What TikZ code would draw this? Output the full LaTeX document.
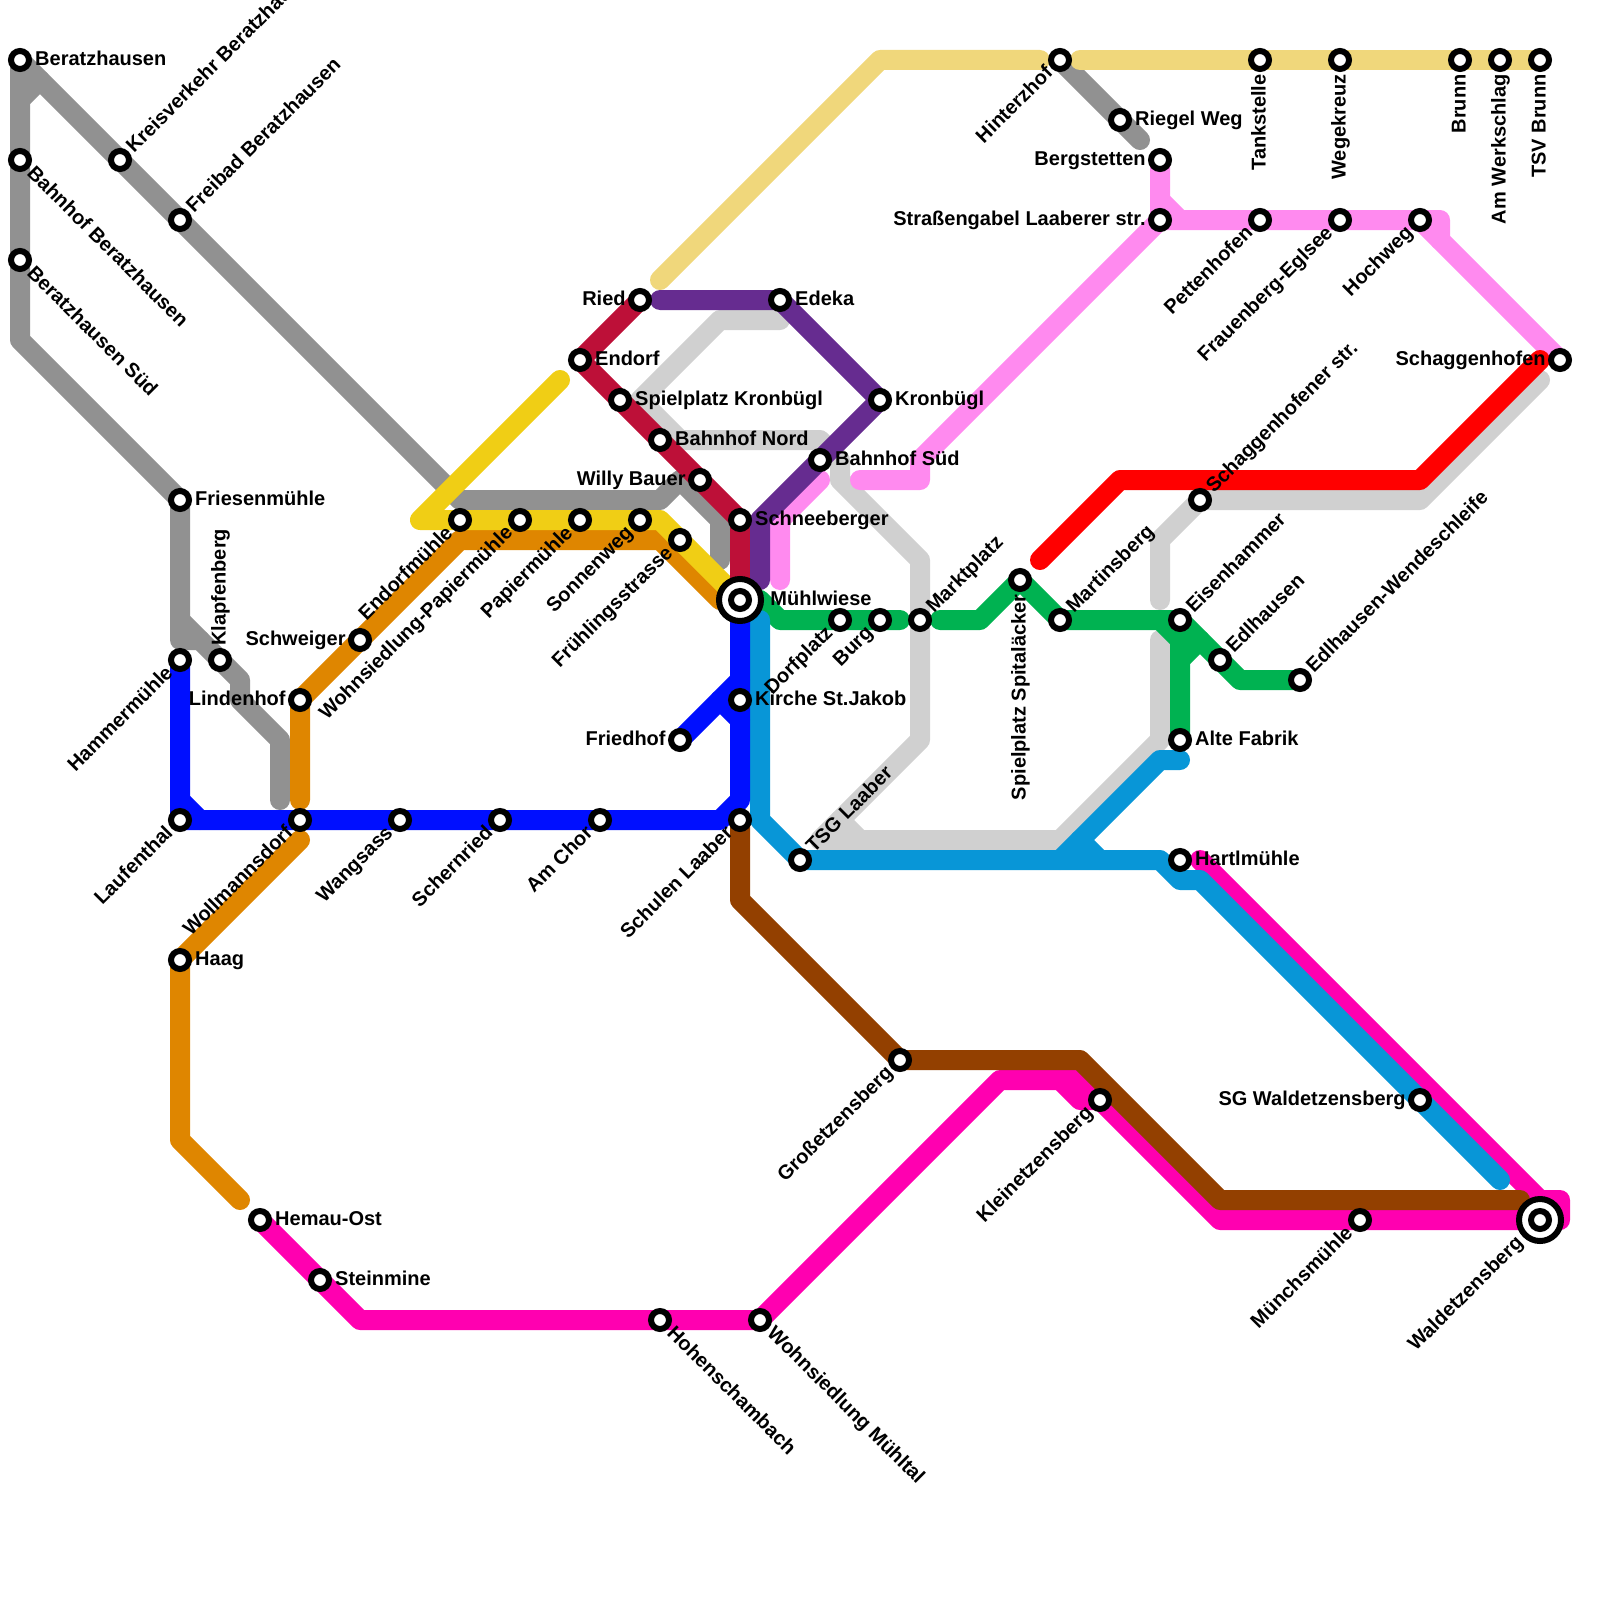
\documentclass[tikz,border=0pt]{standalone}
\usepackage{fontspec}
\setmainfont{Liberation Sans}
\pgfdeclarelayer{lines}
\pgfsetlayers{lines,main}
\definecolor{cgray}{HTML}{919191}
\definecolor{clight}{HTML}{D0D0D0}
\definecolor{cyellow}{HTML}{F0CE15}
\definecolor{csand}{HTML}{F0D77B}
\definecolor{corange}{HTML}{DF8600}
\definecolor{cblue}{HTML}{000FFF}
\definecolor{csky}{HTML}{0896D7}
\definecolor{ccrimson}{HTML}{BD1038}
\definecolor{cpurple}{HTML}{662C90}
\definecolor{cpink}{HTML}{FF8AEF}
\definecolor{cgreen}{HTML}{00B251}
\definecolor{cmagenta}{HTML}{FF00B0}
\definecolor{cbrown}{HTML}{934000}
\definecolor{cred}{HTML}{FF0000}
\tikzset{
  x=0.5pt,y=-0.5pt,
  rail/.style={line width=10pt,line cap=round,line join=round},
  stn/.style={circle,draw=black,fill=white,line width=3pt,minimum size=9pt,inner sep=0pt,outer sep=0pt},
  hubring/.style={circle,draw=black,fill=white,line width=3pt,minimum size=21pt,inner sep=0pt,outer sep=0pt},
  lab/.style={inner sep=0pt,font=\bfseries\fontsize{10}{12}\selectfont,text=black},
  lE/.style={lab,anchor=base west,xshift=7.4pt,yshift=-2.8pt},
  lW/.style={lab,anchor=base east,xshift=-7pt,yshift=-2.8pt},
  lNE/.style={lab,rotate=45,anchor=base west,xshift=7pt,yshift=-2.8pt},
  lSE/.style={lab,rotate=-45,anchor=base west,xshift=7pt,yshift=-2.8pt},
  lSW/.style={lab,rotate=45,anchor=base east,xshift=-7pt,yshift=-2.8pt},
  lS/.style={lab,rotate=90,anchor=base east,xshift=-7pt,yshift=-2.8pt},
  lN/.style={lab,rotate=90,anchor=base west,xshift=7pt,yshift=-2.8pt},
}
\newcommand{\stat}[5]{\node[stn] (#1) at (#2,#3) {}; \node[#4] (#1L) at (#1.center) {#5};}
\begin{document}
\begin{tikzpicture}
\useasboundingbox (0,0) rectangle (1600,1600);
\clip (0,0) rectangle (1600,1600);
% stations
\stat{beratz}{20}{60}{lE}{Beratzhausen}
\stat{bfberatz}{20}{160}{lSE}{Bahnhof Beratzhausen}
\stat{bersued}{20}{260}{lSE}{Beratzhausen Süd}
\stat{kreis}{120}{160}{lNE}{Kreisverkehr Beratzhausen}
\stat{freibad}{180}{220}{lNE}{Freibad Beratzhausen}
\stat{fries}{180}{500}{lE}{Friesenmühle}
\stat{klapf}{220}{660}{lN}{Klapfenberg}
\stat{hammer}{180}{660}{lSW}{Hammermühle}
\stat{lauf}{180}{820}{lSW}{Laufenthal}
\stat{linden}{300}{700}{lW}{Lindenhof}
\stat{schw}{360}{640}{lW}{Schweiger}
\stat{endm}{460}{520}{lSW}{Endorfmühle}
\stat{wohnp}{520}{520}{lSW}{Wohnsiedlung-Papiermühle}
\stat{papier}{580}{520}{lSW}{Papiermühle}
\stat{sonnen}{640}{520}{lSW}{Sonnenweg}
\stat{fruehl}{680}{540}{lSW}{Frühlingsstrasse}
\stat{woll}{300}{820}{lSW}{Wollmannsdorf}
\stat{wang}{400}{820}{lSW}{Wangsass}
\stat{schern}{500}{820}{lSW}{Schernried}
\stat{chor}{600}{820}{lSW}{Am Chor}
\stat{schul}{740}{820}{lSW}{Schulen Laaber}
\stat{haag}{180}{960}{lE}{Haag}
\stat{hemau}{260}{1220}{lE}{Hemau-Ost}
\stat{stein}{320}{1280}{lE}{Steinmine}
\stat{hohen}{660}{1320}{lSE}{Hohenschambach}
\stat{muehlt}{760}{1320}{lSE}{Wohnsiedlung Mühltal}
\stat{friedh}{680}{740}{lW}{Friedhof}
\stat{kirche}{740}{700}{lE}{Kirche St.Jakob}
\stat{tsg}{800}{860}{lNE}{TSG Laaber}
\stat{dorf}{840}{620}{lSW}{Dorfplatz}
\stat{burg}{880}{620}{lSW}{Burg}
\stat{markt}{920}{620}{lNE}{Marktplatz}
\stat{spital}{1020}{580}{lS}{Spielplatz Spitaläcker}
\stat{martin}{1060}{620}{lNE}{Martinsberg}
\stat{eisen}{1180}{620}{lNE}{Eisenhammer}
\stat{edl}{1220}{660}{lNE}{Edlhausen}
\stat{edlw}{1300}{680}{lNE}{Edlhausen-Wendeschleife}
\stat{alte}{1180}{740}{lE}{Alte Fabrik}
\stat{hartl}{1180}{860}{lE}{Hartlmühle}
\stat{schagstr}{1200}{500}{lNE}{Schaggenhofener str.}
\stat{schag}{1560}{360}{lW}{Schaggenhofen}
\stat{hoch}{1420}{220}{lSW}{Hochweg}
\stat{frau}{1340}{220}{lSW}{Frauenberg-Eglsee}
\stat{petten}{1260}{220}{lSW}{Pettenhofen}
\stat{strass}{1160}{220}{lW}{Straßengabel Laaberer str.}
\stat{bergst}{1160}{160}{lW}{Bergstetten}
\stat{riegel}{1120}{120}{lE}{Riegel Weg}
\stat{hinter}{1060}{60}{lSW}{Hinterzhof}
\stat{tank}{1260}{60}{lS}{Tankstelle}
\stat{wege}{1340}{60}{lS}{Wegekreuz}
\stat{brunn}{1460}{60}{lS}{Brunn}
\stat{werk}{1500}{60}{lS}{Am Werkschlag}
\stat{tsv}{1540}{60}{lS}{TSV Brunn}
\stat{ried}{640}{300}{lW}{Ried}
\stat{endorf}{580}{360}{lE}{Endorf}
\stat{spielk}{620}{400}{lE}{Spielplatz Kronbügl}
\stat{bfnord}{660}{440}{lE}{Bahnhof Nord}
\stat{willy}{700}{480}{lW}{Willy Bauer}
\stat{schnee}{740}{520}{lE}{Schneeberger}
\stat{edeka}{780}{300}{lE}{Edeka}
\stat{kron}{880}{400}{lE}{Kronbügl}
\stat{bfsued}{820}{460}{lE}{Bahnhof Süd}
\stat{gross}{900}{1060}{lSW}{Großetzensberg}
\stat{klein}{1100}{1100}{lSW}{Kleinetzensberg}
\stat{sgw}{1420}{1100}{lW}{SG Waldetzensberg}
\stat{muench}{1360}{1220}{lSW}{Münchsmühle}
\node[hubring] (muehlr) at (740,600) {};
\node[stn] (muehl) at (740,600) {};
\node[lE,xshift=7.6pt] (muehlL) at (muehl.center) {Mühlwiese};
\node[hubring] (waldr) at (1540,1220) {};
\node[stn] (wald) at (1540,1220) {};
\node[lSW,xshift=-7pt] (waldL) at (wald.center) {Waldetzensberg};
% lines
\begin{pgfonlayer}{lines}
\draw[rail,clight] (780,320) -- (720,320) -- (640,400) -- (680,440) -- (820,440) -- (840,460) -- (840,480) -- (920,560) -- (920,740) -- (820,840) -- (1060,840) -- (1160,740) -- (1160,640);
\draw[rail,clight] (840,820) -- (860,840);
\draw[rail,clight] (1160,600) -- (1160,540) -- (schagstr.center) -- (1420,500) -- (1540,380);
\draw[rail,cgray] (beratz.center) -- (460,500) -- (660,500) -- (680,480) -- (720,520) -- (720,560);
\draw[rail,cgray] (beratz.center) -- (20,340) -- (fries.center) -- (180,640) -- (200,640);
\draw[rail,cgray] (180,620) -- (240,680) -- (240,700) -- (280,740) -- (280,800);
\draw[rail,cgray] (40,80) -- (20,100);
\draw[rail,cgray] (hinter.center) -- (1140,140);
\draw[rail,corange] (300,800) -- (linden.center) -- (460,540) -- (660,540) -- (720,600);
\draw[rail,corange] (300,840) -- (haag.center) -- (180,1140) -- (240,1200);
\draw[rail,cyellow] (560,380) -- (420,520) -- (660,520) -- (muehl.center);
\draw[rail,csand] (660,280) -- (880,60) -- (1040,60);
\draw[rail,csand] (1080,60) -- (tsv.center);
\draw[rail,cpink] (bergst.center) -- (strass.center) -- (1440,220) -- (1440,240) -- (schag.center);
\draw[rail,cpink] (hoch.center) -- (1440,240);
\draw[rail,cpink] (1160,200) -- (1180,220);
\draw[rail,cpink] (strass.center) -- (920,460) -- (920,480) -- (860,480);
\draw[rail,cpink] (820,480) -- (780,520) -- (780,580);
\draw[rail,ccrimson] (ried.center) -- (endorf.center) -- (schnee.center) -- (muehl.center);
\draw[rail,cpurple] (660,300) -- (edeka.center) -- (kron.center) -- (760,520) -- (760,580);
\draw[rail,cmagenta] (1200,860) -- (1540,1200) -- (1560,1200) -- (1560,1220) -- (wald.center) -- (1220,1220) -- (1080,1080) -- (1000,1080) -- (muehlt.center) -- (360,1320) -- (hemau.center);
\draw[rail,cmagenta] (1060,1080) -- (1080,1100) -- (klein.center);
\draw[rail,cbrown] (schul.center) -- (740,900) -- (gross.center) -- (1080,1060) -- (1220,1200) -- (1520,1200);
\draw[rail,cred] (1040,560) -- (1120,480) -- (1420,480) -- (1540,360);
\draw[rail,cgreen] (760,600) -- (780,620) -- (900,620);
\draw[rail,cgreen] (940,620) -- (980,620) -- (spital.center) -- (martin.center) -- (eisen.center) -- (1240,680) -- (edlw.center);
\draw[rail,cgreen] (1160,620) -- (1180,640) -- (alte.center);
\draw[rail,cgreen] (1180,660) -- (1200,640);
\draw[rail,csky] (760,620) -- (760,820) -- (tsg.center) -- (1160,860) -- (1180,880) -- (1200,880) -- (1500,1180);
\draw[rail,csky] (1060,860) -- (1160,760) -- (1180,760);
\draw[rail,csky] (1080,840) -- (1100,860);
\draw[rail,cblue] (hammer.center) -- (lauf.center) -- (720,820) -- (740,800) -- (muehl.center);
\draw[rail,cblue] (180,800) -- (200,820);
\draw[rail,cblue] (friedh.center) -- (740,680);
\draw[rail,cblue] (720,700) -- (740,720);
\end{pgfonlayer}
\end{tikzpicture}
\end{document}
